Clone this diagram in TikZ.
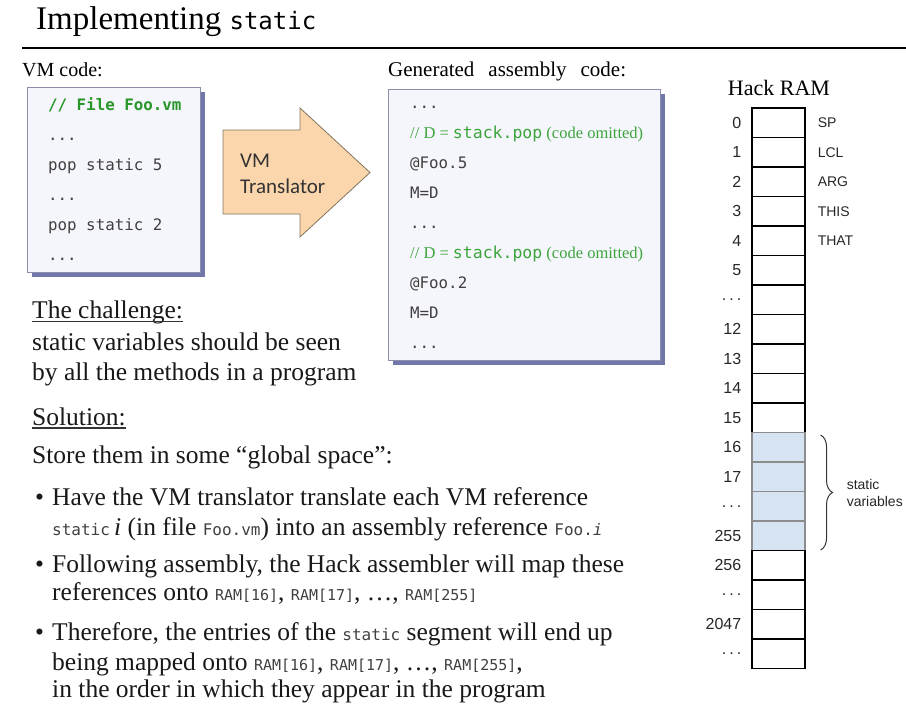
\documentclass[tikz,border=0pt]{standalone}
\usepackage{fontspec}
\setmainfont{Liberation Serif}
\setsansfont{Carlito}
\setmonofont{DejaVu Sans Mono}
\newfontfamily\arialfont{Liberation Sans}
\usetikzlibrary{
  shadows,
  decorations.pathreplacing,
  calc
}
\definecolor{codegreen}{RGB}{40,150,40}
\definecolor{cmtgreen}{RGB}{60,165,60}
\definecolor{codegray}{RGB}{64,64,64}
\definecolor{boxfill}{RGB}{245,245,252}
\definecolor{boxline}{RGB}{140,140,172}
\definecolor{shadowblue}{RGB}{52,62,132}
\definecolor{arrowfill}{RGB}{251,214,172}
\definecolor{arrowline}{RGB}{130,115,95}
\definecolor{ramblue}{RGB}{213,227,242}

\newcommand{\fsz}[1]{\fontsize{#1}{#1}\selectfont}
\newcommand{\inlinecode}[1]{{\fsz{16}\ttfamily\color{codegray}#1}}
\newcommand{\ramcode}[1]{{\fsz{15}\ttfamily\color{codegray}#1}}
\newcommand{\rdots}{.\hspace{3pt}.\hspace{3pt}.}

\tikzset{
  codebox/.style={rectangle,draw=boxline,fill=boxfill,line width=0.8pt,anchor=north west,
    drop shadow={shadow xshift=5pt,shadow yshift=-5pt,fill=shadowblue,opacity=0.7}},
  codeline/.style={anchor=base west,inner sep=0pt,font=\fsz{15.8}\ttfamily,text=codegray},
  bodytext/.style={anchor=base west,inner sep=0pt,font=\fsz{25.5},text=black!90},
  ramcell/.style={rectangle,draw=black,line width=1.1pt,fill=white,
    minimum width=53pt,minimum height=29.5pt,inner sep=0pt},
  ramhot/.style={ramcell,fill=ramblue,draw=black!45},
  ramnum/.style={anchor=east,inner sep=0pt,font=\arialfont\fsz{16},text=black!85},
  ramtag/.style={anchor=west,inner sep=0pt,font=\arialfont\fsz{14},text=black!85}
}

\begin{document}
\begin{tikzpicture}[x=1pt,y=-1pt,
  uline/.style={line width=1.2pt,black!80}
]
\useasboundingbox (0,0) rectangle (906,728);

% Title
\node[anchor=base west,inner sep=0pt,font=\fsz{33}] (title) at (36,29)
  {Implementing {\fsz{24}\ttfamily static}};
\draw[line width=1.5pt] (22,48) -- (906,48);

% VM code
\node[anchor=base west,inner sep=0pt,font=\fsz{20}] (vmlbl) at (22,76) {VM code:};
\node[codebox,minimum width=173pt,minimum height=185pt] (vmbox) at (27,87) {};
\node[codeline,text=codegreen,font=\fsz{15.8}\ttfamily\bfseries] (vm0) at (48,110) {// File Foo.vm};
\node[codeline] (vm1) at (48,140) {...};
\node[codeline] (vm2) at (48,170) {pop static 5};
\node[codeline] (vm3) at (48,200) {...};
\node[codeline] (vm4) at (48,230) {pop static 2};
\node[codeline] (vm5) at (48,260) {...};

% VM translator arrow
\draw[fill=arrowfill,draw=arrowline,line width=0.8pt]
  (223,130) -- (300,130) -- (300,108) -- (370,172.5) -- (300,237) -- (300,214) -- (223,214) -- cycle;
\node[anchor=base west,inner sep=0pt,font=\sffamily\fsz{21},text=black!80] (trans1) at (240,167) {VM};
\node[anchor=base west,inner sep=0pt,font=\sffamily\fsz{21},text=black!80] (trans2) at (240,193) {Translator};

% Generated assembly
\node[anchor=base west,inner sep=0pt,font=\fsz{21}] (asmlbl) at (388,76)
  {Generated\hspace{14pt}assembly\hspace{14pt}code:};
\node[codebox,minimum width=272pt,minimum height=271pt] (asmbox) at (388,89) {};
\node[codeline] (asm0) at (410,108) {...};
\node[codeline,text=cmtgreen,font=\fsz{16.5}] (asm1) at (410,138) {// D = {\ttfamily stack.pop} (code omitted)};
\node[codeline] (asm2) at (410,168) {@Foo.5};
\node[codeline] (asm3) at (410,198) {M=D};
\node[codeline] (asm4) at (410,228) {...};
\node[codeline,text=cmtgreen,font=\fsz{16.5}] (asm5) at (410,258) {// D = {\ttfamily stack.pop} (code omitted)};
\node[codeline] (asm6) at (410,288) {@Foo.2};
\node[codeline] (asm7) at (410,318) {M=D};
\node[codeline] (asm8) at (410,348) {...};

% Hack RAM
\node[anchor=base,inner sep=0pt,font=\fsz{22}] (ramlbl) at (779,95) {Hack RAM};
\foreach \lbl [count=\i from 0] in {0,1,2,3,4,5,\rdots,12,13,14,15,16,17,\rdots,255,256,\rdots,2047,\rdots}{
  \ifnum\i>10 \ifnum\i<15 \def\cellstyle{ramhot}\else\def\cellstyle{ramcell}\fi
  \else\def\cellstyle{ramcell}\fi
  \node[\cellstyle] (ram-\i) at (778.5,{122.75+29.5*\i}) {};
  \node[ramnum] (num-\i) at ($(ram-\i.west)+(-10,0)$) {\lbl};
}
\foreach \tag [count=\i from 0] in {SP,LCL,ARG,THIS,THAT}
  \node[ramtag] (tag-\i) at ($(ram-\i.east)+(12,0)$) {\tag};

% static segment brace
\coordinate (brtop) at ($(ram-11.north east)+(15,3)$);
\coordinate (brbot) at ($(ram-14.south east)+(15,-1)$);
\draw[decorate,decoration={brace,amplitude=12pt},line width=1pt,black!80] (brtop) -- (brbot);
\node[ramtag,align=left,font=\arialfont\fontsize{14}{17}\selectfont] (statlbl)
  at ($(brtop)!0.5!(brbot)+(26,0)$) {static\\variables};

% Challenge and solution
\node[bodytext] (chal) at (32,318) {The challenge:};
\draw[uline] ($(chal.base west)+(0,3.5)$) -- ($(chal.base east)+(0,3.5)$);
\node[bodytext] (chal1) at (32,350) {static variables should be seen};
\node[bodytext] (chal2) at (32,380) {by all the methods in a program};
\node[bodytext] (sol) at (32,425) {Solution:};
\draw[uline] ($(sol.base west)+(0,3)$) -- ($(sol.base east)+(0,3)$);
\node[bodytext] (store) at (32,463) {Store them in some “global space”:};

% Bullets
\foreach \y [count=\k] in {505,572,640}
  \node[bodytext] (dot\k) at (35,\y) {•};
\node[bodytext] (b1a) at (52,505) {Have the VM translator translate each VM reference};
\node[bodytext] (b1b) at (52,535) {\inlinecode{static}\,\textit{i} (in file \inlinecode{Foo.vm}) into an assembly reference \inlinecode{Foo.\textit{i}}};
\node[bodytext] (b2a) at (52,572) {Following assembly, the Hack assembler will map these};
\node[bodytext] (b2b) at (52,600) {references onto \ramcode{RAM[16]}, \ramcode{RAM[17]}, …, \ramcode{RAM[255]}};
\node[bodytext] (b3a) at (52,640) {Therefore, the entries of the \inlinecode{static} segment will end up};
\node[bodytext] (b3b) at (52,670) {being mapped onto \ramcode{RAM[16]}, \ramcode{RAM[17]}, …, \ramcode{RAM[255]},};
\node[bodytext] (b3c) at (52,697) {in the order in which they appear in the program};

\end{tikzpicture}
\end{document}
